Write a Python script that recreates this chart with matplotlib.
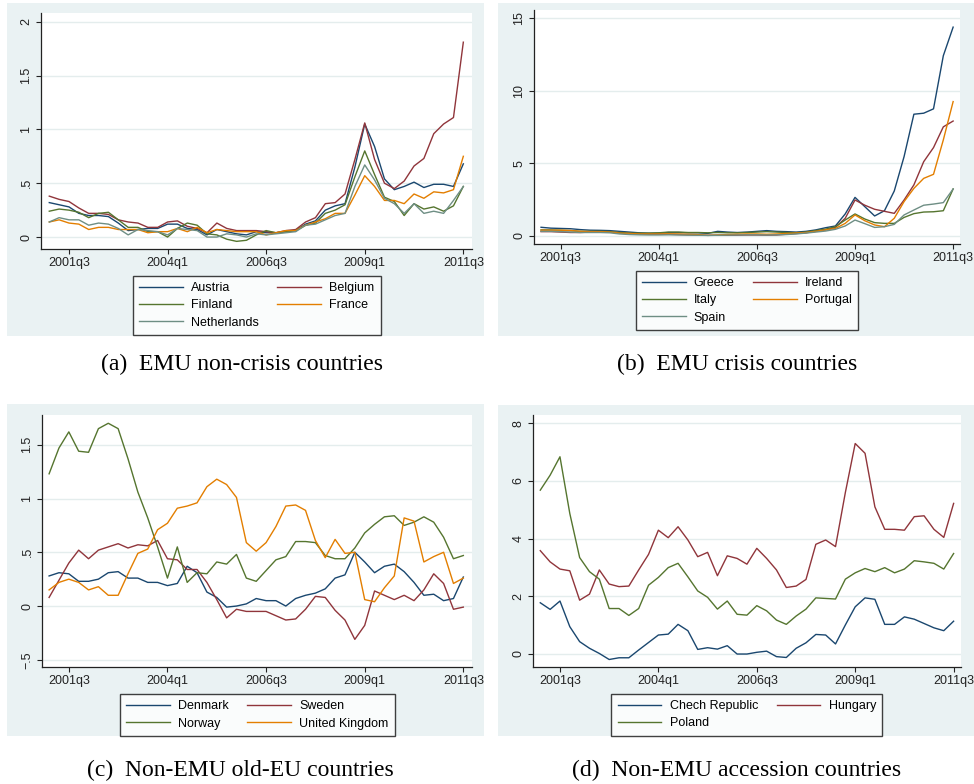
import matplotlib.pyplot as plt
from matplotlib.patches import Rectangle

W, H = 974, 784

quarters = [f"{2001 + k // 4}q{k % 4 + 1}" for k in range(43)]
date_ticks = ["2001q3", "2004q1", "2006q3", "2009q1", "2011q3"]

# (a) EMU non-crisis countries
austria = [0.32, 0.30, 0.28, 0.22, 0.20, 0.20, 0.19, 0.13, 0.06, 0.07, 0.08, 0.08, 0.12, 0.12, 0.08,
           0.07, 0.02, 0.07, 0.05, 0.03, 0.02, 0.05, 0.04, 0.04, 0.05, 0.06, 0.12, 0.15, 0.25, 0.29,
           0.31, 0.65, 1.05, 0.84, 0.54, 0.44, 0.47, 0.51, 0.46, 0.49, 0.49, 0.47, 0.68]
belgium = [0.38, 0.35, 0.33, 0.27, 0.22, 0.22, 0.21, 0.16, 0.14, 0.13, 0.09, 0.09, 0.14, 0.15, 0.10,
           0.08, 0.04, 0.13, 0.08, 0.06, 0.06, 0.06, 0.05, 0.04, 0.06, 0.07, 0.14, 0.18, 0.31, 0.32,
           0.40, 0.72, 1.06, 0.72, 0.50, 0.45, 0.52, 0.66, 0.73, 0.96, 1.05, 1.11, 1.81]
finland = [0.24, 0.26, 0.25, 0.23, 0.18, 0.22, 0.23, 0.16, 0.09, 0.09, 0.05, 0.05, 0.00, 0.08, 0.13,
           0.11, 0.03, 0.02, -0.02, -0.04, -0.03, 0.02, 0.06, 0.04, 0.05, 0.06, 0.11, 0.13, 0.22, 0.25,
           0.30, 0.56, 0.80, 0.58, 0.37, 0.33, 0.20, 0.31, 0.26, 0.28, 0.24, 0.29, 0.47]
france = [0.14, 0.16, 0.13, 0.12, 0.07, 0.09, 0.09, 0.07, 0.07, 0.07, 0.04, 0.05, 0.05, 0.08, 0.05,
          0.09, 0.04, 0.07, 0.06, 0.05, 0.05, 0.05, 0.02, 0.04, 0.06, 0.06, 0.11, 0.14, 0.17, 0.22,
          0.22, 0.39, 0.57, 0.47, 0.34, 0.34, 0.31, 0.40, 0.36, 0.42, 0.41, 0.44, 0.75]
netherlands = [0.14, 0.18, 0.16, 0.16, 0.11, 0.13, 0.12, 0.08, 0.02, 0.07, 0.06, 0.05, 0.02, 0.08, 0.07,
               0.06, 0.00, 0.00, 0.03, 0.02, 0.00, 0.03, 0.02, 0.03, 0.04, 0.05, 0.11, 0.12, 0.16, 0.20,
               0.22, 0.47, 0.67, 0.53, 0.36, 0.31, 0.22, 0.31, 0.22, 0.24, 0.22, 0.34, 0.47]

# (b) EMU crisis countries
greece = [0.58, 0.52, 0.50, 0.48, 0.42, 0.38, 0.37, 0.35, 0.30, 0.25, 0.20, 0.17, 0.18, 0.22, 0.22,
          0.20, 0.20, 0.16, 0.30, 0.25, 0.22, 0.25, 0.30, 0.35, 0.30, 0.28, 0.25, 0.30, 0.40, 0.55,
          0.67, 1.50, 2.64, 2.00, 1.36, 1.72, 3.08, 5.45, 8.37, 8.44, 8.74, 12.40, 14.37]
ireland = [0.28, 0.28, 0.25, 0.22, 0.22, 0.25, 0.25, 0.25, 0.20, 0.15, 0.12, 0.10, 0.10, 0.10, 0.08,
           0.06, 0.05, 0.03, 0.03, 0.03, 0.04, 0.05, 0.05, 0.04, 0.05, 0.10, 0.15, 0.20, 0.30, 0.40,
           0.57, 1.20, 2.46, 2.10, 1.82, 1.68, 1.54, 2.46, 3.50, 5.10, 6.07, 7.50, 7.90]
italy = [0.40, 0.40, 0.38, 0.35, 0.30, 0.30, 0.30, 0.28, 0.22, 0.18, 0.18, 0.18, 0.20, 0.25, 0.25,
         0.22, 0.22, 0.20, 0.22, 0.20, 0.20, 0.22, 0.25, 0.28, 0.25, 0.22, 0.20, 0.25, 0.35, 0.45,
         0.62, 1.08, 1.50, 1.15, 0.90, 0.85, 0.85, 1.26, 1.52, 1.63, 1.65, 1.72, 3.22]
portugal = [0.38, 0.38, 0.38, 0.36, 0.30, 0.28, 0.28, 0.25, 0.18, 0.15, 0.12, 0.12, 0.12, 0.13, 0.12,
            0.10, 0.08, 0.02, 0.05, 0.08, 0.10, 0.12, 0.12, 0.10, 0.12, 0.15, 0.18, 0.22, 0.30, 0.40,
            0.50, 0.85, 1.43, 1.03, 0.74, 0.62, 1.20, 2.35, 3.26, 3.95, 4.23, 6.60, 9.24]
spain = [0.30, 0.30, 0.28, 0.25, 0.22, 0.22, 0.22, 0.20, 0.12, 0.08, 0.06, 0.05, 0.05, 0.06, 0.05,
         0.04, 0.03, 0.02, 0.03, 0.04, 0.05, 0.06, 0.06, 0.05, 0.06, 0.08, 0.12, 0.18, 0.25, 0.32,
         0.44, 0.67, 1.08, 0.83, 0.57, 0.62, 0.78, 1.43, 1.77, 2.10, 2.18, 2.28, 3.22]

# (c) Non-EMU old-EU countries
denmark = [0.28, 0.31, 0.30, 0.23, 0.23, 0.25, 0.31, 0.32, 0.26, 0.26, 0.22, 0.22, 0.19, 0.21, 0.37,
           0.31, 0.13, 0.08, -0.01, 0.00, 0.02, 0.07, 0.05, 0.05, 0.00, 0.07, 0.10, 0.12, 0.16, 0.26,
           0.29, 0.50, 0.41, 0.31, 0.37, 0.39, 0.32, 0.22, 0.10, 0.11, 0.05, 0.07, 0.27]
sweden = [0.08, 0.24, 0.40, 0.52, 0.44, 0.52, 0.55, 0.58, 0.54, 0.57, 0.56, 0.61, 0.44, 0.43, 0.34,
          0.34, 0.22, 0.06, -0.11, -0.03, -0.05, -0.05, -0.05, -0.09, -0.13, -0.12, -0.03, 0.09, 0.08, -0.04,
          -0.13, -0.31, -0.18, 0.14, 0.10, 0.06, 0.10, 0.05, 0.15, 0.30, 0.21, -0.03, -0.01]
norway = [1.23, 1.47, 1.62, 1.44, 1.43, 1.65, 1.70, 1.65, 1.37, 1.06, 0.82, 0.55, 0.26, 0.55, 0.22,
          0.31, 0.30, 0.41, 0.39, 0.48, 0.26, 0.23, 0.33, 0.43, 0.46, 0.60, 0.60, 0.59, 0.47, 0.44,
          0.44, 0.54, 0.68, 0.76, 0.83, 0.84, 0.75, 0.78, 0.83, 0.78, 0.64, 0.44, 0.47]
uk = [0.15, 0.22, 0.25, 0.22, 0.15, 0.18, 0.10, 0.10, 0.30, 0.49, 0.53, 0.71, 0.77, 0.91, 0.93,
      0.96, 1.11, 1.18, 1.13, 1.01, 0.59, 0.51, 0.59, 0.74, 0.93, 0.94, 0.89, 0.61, 0.45, 0.62,
      0.49, 0.50, 0.06, 0.04, 0.17, 0.28, 0.82, 0.79, 0.41, 0.46, 0.50, 0.21, 0.26]

# (d) Non-EMU accession countries
czech = [1.77, 1.54, 1.83, 0.94, 0.42, 0.19, 0.01, -0.20, -0.14, -0.14, 0.13, 0.39, 0.65, 0.68, 1.02,
         0.80, 0.15, 0.21, 0.16, 0.28, -0.01, -0.01, 0.05, 0.09, -0.10, -0.13, 0.19, 0.38, 0.67, 0.65,
         0.34, 1.00, 1.63, 1.94, 1.89, 1.02, 1.02, 1.28, 1.20, 1.05, 0.90, 0.80, 1.13]
hungary = [3.58, 3.19, 2.94, 2.88, 1.86, 2.07, 2.91, 2.42, 2.33, 2.35, 2.91, 3.45, 4.29, 4.03, 4.41,
           3.95, 3.37, 3.52, 2.71, 3.40, 3.31, 3.11, 3.66, 3.31, 2.91, 2.30, 2.35, 2.58, 3.80, 3.95,
           3.72, 5.60, 7.30, 6.96, 5.10, 4.32, 4.32, 4.29, 4.76, 4.79, 4.32, 4.04, 5.22]
poland = [5.68, 6.20, 6.84, 4.87, 3.34, 2.85, 2.59, 1.57, 1.57, 1.33, 1.57, 2.38, 2.65, 2.99, 3.14,
          2.67, 2.18, 1.96, 1.55, 1.83, 1.37, 1.34, 1.67, 1.49, 1.17, 1.02, 1.31, 1.55, 1.94, 1.92,
          1.90, 2.59, 2.81, 2.96, 2.85, 2.99, 2.81, 2.94, 3.23, 3.19, 3.14, 2.94, 3.48]

stata_colors = ["#1a476f", "#90353b", "#55752f", "#e37e00", "#6e8e84"]
BG = "#eaf2f3"
SANS = "Liberation Sans"

fig = plt.figure(figsize=(W / 100, H / 100), dpi=100)


def px(x0, y0, x1, y1):
    # pixel box (top-left origin) -> figure fraction rect
    return [x0 / W, 1 - y1 / H, (x1 - x0) / W, (y1 - y0) / H]


def panel(bg, plot, xlim, ylim, series, names, yticks, ylabels, leg_top, caption, cap_x, cap_y):
    r = px(*bg)
    fig.add_artist(Rectangle((r[0], r[1]), r[2], r[3], transform=fig.transFigure,
                             facecolor=BG, edgecolor="none", zorder=-1))
    ax = fig.add_axes(px(*plot))
    ax.set_facecolor("white")
    x = list(range(len(quarters)))
    lines = []
    for vals, name, c in zip(series, names, stata_colors):
        ln, = ax.plot(x, vals, color=c, lw=1.0, label=name)
        lines.append(ln)
    ax.set_xlim(*xlim)
    ax.set_ylim(*ylim)
    ax.set_xticks([quarters.index(q) for q in date_ticks])
    ax.set_xticklabels(date_ticks, fontsize=9, family=SANS)
    ax.set_yticks(yticks)
    ax.set_yticklabels(ylabels, fontsize=9, family=SANS, rotation=90, va="center")
    ax.tick_params(direction="out", length=3.6, width=0.8, pad=2.5, colors="#222222")
    ax.grid(axis="y", color="#e4eded", lw=1.0)
    ax.set_axisbelow(True)
    for s in ("top", "right"):
        ax.spines[s].set_visible(False)
    for s in ("left", "bottom"):
        ax.spines[s].set_color("#222222")
        ax.spines[s].set_linewidth(0.9)
    order = list(range(0, len(lines), 2)) + list(range(1, len(lines), 2))
    cx = (plot[0] + plot[2]) / 2 / W
    leg = fig.legend([lines[i] for i in order], [names[i] for i in order], ncol=2,
                     loc="upper center", bbox_to_anchor=(cx, 1 - leg_top / H),
                     bbox_transform=fig.transFigure, frameon=True, fancybox=False,
                     prop={"family": SANS, "size": 9}, handlelength=3.5, handletextpad=0.65,
                     columnspacing=1.5, labelspacing=0.42, borderpad=0.5, borderaxespad=0)
    leg.get_frame().set_edgecolor("#111111")
    leg.get_frame().set_linewidth(1.0)
    fig.text(cap_x / W, 1 - cap_y / H, caption, ha="center", va="center",
             family="Liberation Serif", fontsize=17)
    return ax


panel((7, 3, 484, 336), (41, 13, 472, 249), (-0.84, 42.88), (-0.111, 2.081),
      [austria, belgium, finland, france, netherlands],
      ["Austria", "Belgium", "Finland", "France", "Netherlands"],
      [0, 0.5, 1, 1.5, 2], ["0", ".5", "1", "1.5", "2"], 276,
      "(a)  EMU non-crisis countries", 242, 364)

panel((498, 3, 974, 336), (533.7, 10, 960, 243.7), (-0.75, 42.7), (-0.551, 15.55),
      [greece, ireland, italy, portugal, spain],
      ["Greece", "Ireland", "Italy", "Portugal", "Spain"],
      [0, 5, 10, 15], ["0", "5", "10", "15"], 271,
      "(b)  EMU crisis countries", 737, 364)

panel((7, 404, 484, 736), (42, 415, 472, 667), (-0.72, 42.88), (-0.567, 1.777),
      [denmark, sweden, norway, uk],
      ["Denmark", "Sweden", "Norway", "United Kingdom"],
      [-0.5, 0, 0.5, 1, 1.5], ["\u2212.5", "0", ".5", "1", "1.5"], 694,
      "(c)  Non-EMU old-EU countries", 240, 770)

panel((498, 405, 974, 736), (532.7, 415, 961, 666.7), (-0.77, 42.75), (-0.45, 8.29),
      [czech, hungary, poland],
      ["Chech Republic", "Hungary", "Poland"],
      [0, 2, 4, 6, 8], ["0", "2", "4", "6", "8"], 694,
      "(d)  Non-EMU accession countries", 737, 770)

fig.savefig("out.png", dpi=100, facecolor="white")
